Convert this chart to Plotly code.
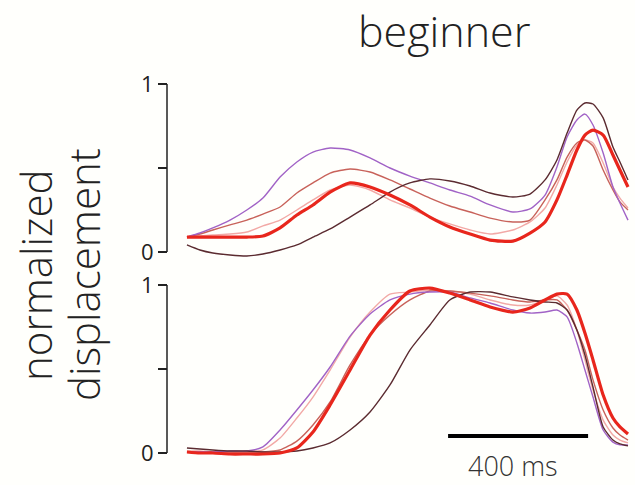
import plotly.graph_objects as go

# time axis (ms)
time_ms = [0, 37, 74, 123, 171, 217, 266, 314, 360, 409, 466, 523, 580, 637, 694,
           751, 809, 866, 931, 980, 1023, 1057, 1086, 1114, 1137, 1160, 1189, 1217, 1237, 1260]

# top panel series
top_purple = [0.089, 0.113, 0.143, 0.190, 0.250, 0.321, 0.446, 0.536, 0.595, 0.619, 0.607, 0.560,
              0.500, 0.452, 0.411, 0.369, 0.333, 0.280, 0.238, 0.256, 0.339, 0.506, 0.685, 0.786,
              0.821, 0.756, 0.589, 0.387, 0.292, 0.190]
top_salmon = [0.089, 0.107, 0.131, 0.161, 0.190, 0.226, 0.268, 0.351, 0.411, 0.470, 0.494, 0.476,
              0.429, 0.375, 0.321, 0.274, 0.238, 0.202, 0.179, 0.190, 0.310, 0.429, 0.565, 0.649,
              0.667, 0.631, 0.488, 0.369, 0.298, 0.250]
top_red = [0.089, 0.089, 0.089, 0.089, 0.089, 0.095, 0.143, 0.220, 0.280, 0.357, 0.411, 0.387,
           0.339, 0.280, 0.208, 0.149, 0.107, 0.071, 0.065, 0.113, 0.179, 0.310, 0.458, 0.607,
           0.696, 0.726, 0.696, 0.577, 0.488, 0.387]
top_pink = [0.089, 0.095, 0.101, 0.107, 0.119, 0.155, 0.190, 0.250, 0.310, 0.369, 0.399, 0.369,
            0.310, 0.262, 0.208, 0.167, 0.131, 0.107, 0.131, 0.179, 0.262, 0.399, 0.536, 0.637,
            0.667, 0.649, 0.530, 0.387, 0.321, 0.262]
top_brown = [0.042, 0.012, -0.006, -0.018, -0.024, -0.012, 0.012, 0.042, 0.089, 0.137, 0.208, 0.280,
             0.357, 0.411, 0.435, 0.423, 0.393, 0.351, 0.327, 0.345, 0.429, 0.548, 0.708, 0.845,
             0.887, 0.881, 0.798, 0.625, 0.536, 0.429]

# bottom panel series
bot_purple = [0.006, 0.006, 0.006, 0.012, 0.012, 0.036, 0.137, 0.256, 0.375, 0.512, 0.696, 0.827,
              0.911, 0.946, 0.958, 0.958, 0.923, 0.893, 0.851, 0.833, 0.839, 0.851, 0.810, 0.655,
              0.494, 0.333, 0.137, 0.065, 0.048, 0.048]
bot_pink = [0.012, 0.012, 0.006, 0.006, 0.006, 0.018, 0.089, 0.208, 0.333, 0.494, 0.690, 0.839,
            0.946, 0.958, 0.970, 0.964, 0.946, 0.911, 0.881, 0.881, 0.911, 0.935, 0.881, 0.732,
            0.554, 0.375, 0.196, 0.107, 0.077, 0.060]
bot_salmon = [0.006, 0.006, 0.006, 0.006, 0.006, 0.006, 0.018, 0.071, 0.167, 0.304, 0.524, 0.702,
              0.821, 0.911, 0.964, 0.964, 0.952, 0.935, 0.911, 0.899, 0.911, 0.911, 0.851, 0.732,
              0.613, 0.435, 0.256, 0.149, 0.107, 0.077]
bot_red = [0.006, 0.0, 0.0, -0.006, -0.006, -0.006, 0.0, 0.030, 0.125, 0.286, 0.494, 0.702,
           0.851, 0.964, 0.982, 0.952, 0.911, 0.869, 0.839, 0.863, 0.911, 0.946, 0.946, 0.851,
           0.714, 0.554, 0.345, 0.208, 0.155, 0.113]
bot_brown = [0.030, 0.024, 0.018, 0.012, 0.012, 0.006, 0.006, 0.012, 0.030, 0.060, 0.137, 0.244,
             0.405, 0.613, 0.762, 0.911, 0.958, 0.958, 0.929, 0.911, 0.899, 0.893, 0.851, 0.732,
             0.583, 0.393, 0.155, 0.077, 0.054, 0.042]

tick_vals = [0, 0.5, 1]
tick_text = ["0", "", "1"]
scale_start_ms = 746
scale_len_ms = 400

styles = {
    "pink": dict(color="#f2a9a6", width=1.4),
    "salmon": dict(color="#c8625a", width=1.4),
    "purple": dict(color="#a163c6", width=1.4),
    "brown": dict(color="#5b2b30", width=1.4),
    "red": dict(color="#e8261c", width=3.2),
}

fig = go.Figure()
panels = [
    ("x", "y", [("pink", top_pink), ("salmon", top_salmon), ("purple", top_purple),
                ("brown", top_brown), ("red", top_red)]),
    ("x2", "y2", [("pink", bot_pink), ("salmon", bot_salmon), ("purple", bot_purple),
                  ("brown", bot_brown), ("red", bot_red)]),
]
for xa, ya, series in panels:
    for name, vals in series:
        fig.add_trace(go.Scatter(x=time_ms, y=vals, mode="lines",
                                 line=dict(**styles[name], shape="spline", smoothing=0.6),
                                 xaxis=xa, yaxis=ya, showlegend=False, hoverinfo="skip"))

W, H = 635, 485
L = 167


def fx(px):
    return (px - L) / (W - L)


def fy(py):
    return 1 - py / H


xr = [-57, 1280]
axis_font = dict(family="Open Sans, Lato, sans-serif", size=22, color="#222")
yax = dict(showgrid=False, zeroline=False, showline=False, ticks="outside", ticklen=9, tickwidth=1.5,
           tickcolor="#222", tickvals=tick_vals, ticktext=tick_text, tickfont=axis_font,
           anchor="free", position=0, automargin=False)
xax = dict(visible=False, range=xr, showgrid=False, zeroline=False)

fig.update_layout(
    width=W, height=H,
    margin=dict(l=L, r=0, t=0, b=0, autoexpand=False),
    paper_bgcolor="#fffffc", plot_bgcolor="rgba(0,0,0,0)",
    xaxis=dict(**xax, domain=[0, 1], anchor="y"),
    xaxis2=dict(**xax, domain=[0, 1], anchor="y2"),
    yaxis=dict(**yax, domain=[fy(262), fy(78)], range=[-0.0595, 1.0357]),
    yaxis2=dict(**yax, domain=[fy(460), fy(280)], range=[-0.0417, 1.0298]),
    showlegend=False,
)

# vertical axis lines spanning 0..1
for ya in ["y", "y2"]:
    fig.add_shape(type="line", xref="paper", yref=ya, x0=0, x1=0, y0=0, y1=1,
                  line=dict(color="#222", width=1.5))

# scale bar
fig.add_shape(type="line", xref="x2", yref="paper", x0=scale_start_ms, x1=scale_start_ms + scale_len_ms,
              y0=fy(436), y1=fy(436), line=dict(color="black", width=4))
fig.add_annotation(text="400 ms", xref="x2", yref="paper", x=scale_start_ms + scale_len_ms / 2,
                   y=fy(465), xshift=-5, showarrow=False, xanchor="center", yanchor="middle",
                   font=dict(family="Open Sans, sans-serif", size=27, color="#333", weight=300))

# title
fig.add_annotation(text="beginner", xref="paper", yref="paper", x=fx(444), y=fy(30),
                   showarrow=False, xanchor="center", yanchor="middle",
                   font=dict(family="Open Sans, sans-serif", size=43, color="#222", weight=300))

# y label (two lines)
for txt, px in [("normalized", 35), ("displacement", 83)]:
    fig.add_annotation(text=txt, xref="paper", yref="paper", x=fx(px), y=fy(275),
                       showarrow=False, textangle=-90, xanchor="center", yanchor="middle",
                       font=dict(family="Open Sans, sans-serif", size=42, color="#222", weight=300))

# the page body carries a default 8px margin; remove it so the figure fills the window
fig.write_html("out.html", config={"displayModeBar": False},
               post_script="document.body.style.margin='0';")
